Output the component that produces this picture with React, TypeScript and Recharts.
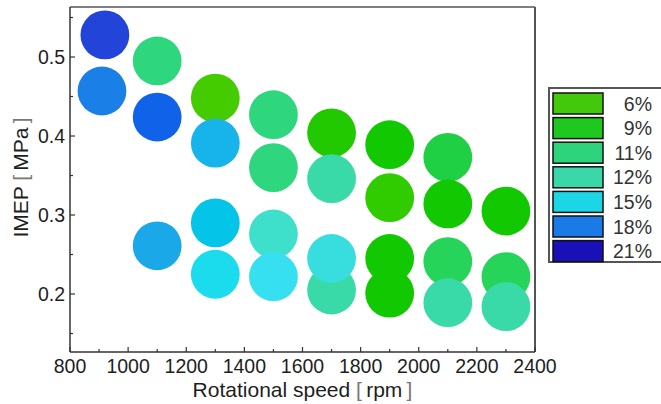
import React from 'react';
import { ScatterChart, Scatter, XAxis, YAxis, Legend, Cell, ReferenceLine } from 'recharts';

// ---- data ----
const rpmValues = [920, 910, 1100, 1100, 1100, 1300, 1300, 1300, 1300, 1500, 1500, 1500, 1500, 1700, 1700, 1700, 1700, 1900, 1900, 1900, 1900, 2100, 2100, 2100, 2100, 2300, 2300, 2300];
const imepValues = [0.528, 0.457, 0.495, 0.424, 0.261, 0.448, 0.391, 0.29, 0.225, 0.427, 0.36, 0.276, 0.222, 0.404, 0.346, 0.205, 0.245, 0.389, 0.322, 0.245, 0.201, 0.373, 0.314, 0.241, 0.189, 0.305, 0.222, 0.184];
const efficiencyValues = [21, 18, 11, 19.5, 17, 6, 16, 15, 14, 11, 11, 13, 14.5, 8, 12, 12, 13.5, 9, 7, 9, 9, 10, 9, 10.5, 12, 9, 10.5, 12];

const legendLabels = ['6%', '9%', '11%', '12%', '15%', '18%', '21%'];
const legendColors = ['#44c80c', '#1ec81e', '#2ed47c', '#3ad8a8', '#1cd6e6', '#1a7ae6', '#1a10b8'];

const efficiencyColors: Record<string, string> = {
  '6': '#44cc00',
  '7': '#30cc00',
  '8': '#22c800',
  '9': '#12c800',
  '10': '#20d044',
  '10.5': '#26d45a',
  '11': '#2ed67e',
  '12': '#3adaa8',
  '13': '#3ee0cc',
  '13.5': '#38dede',
  '14': '#1adcec',
  '14.5': '#36e0f0',
  '15': '#04c4e8',
  '16': '#16b4ea',
  '17': '#1aa8e8',
  '18': '#1a80e8',
  '19.5': '#1062e8',
  '21': '#2244d8',
};

const xDomain = [800, 2400];
const yDomain = [0.1266, 0.5633];
const xTicks = [800, 900, 1000, 1100, 1200, 1300, 1400, 1500, 1600, 1700, 1800, 1900, 2000, 2100, 2200, 2300, 2400];
const yTicks = [0.15, 0.2, 0.25, 0.3, 0.35, 0.4, 0.45, 0.5, 0.55];

const data = rpmValues.map((rpm, i) => ({ rpm, imep: imepValues[i], eff: efficiencyValues[i] }));

const FONT = '"Liberation Sans", Arial, sans-serif';
const FS = 19.5;
const TFS = 21;
const TXT = '#1e1e1e';

const XTick = (props: any) => {
  const { x, y, payload } = props;
  const v = payload.value;
  const major = v % 200 === 0;
  return (
    <g>
      <line x1={x} x2={x} y1={y} y2={y - (major ? 5 : 3)} stroke="#333" strokeWidth={1.2} />
      {major && (
        <text x={x} y={y + 21} textAnchor="middle" fontSize={FS} fontFamily={FONT} fill={TXT}>
          {v}
        </text>
      )}
    </g>
  );
};

const YTick = (props: any) => {
  const { x, y, payload } = props;
  const v = payload.value;
  const major = Math.abs(v * 10 - Math.round(v * 10)) < 1e-6;
  return (
    <g>
      <line x1={x} x2={x + (major ? 5 : 3)} y1={y} y2={y} stroke="#333" strokeWidth={1.2} />
      {major && (
        <text x={x - 5} y={y + 7} textAnchor="end" fontSize={FS} fontFamily={FONT} fill={TXT}>
          {v.toFixed(1)}
        </text>
      )}
    </g>
  );
};

const XTitle = (props: any) => {
  const vb = props.viewBox;
  return (
    <text x={vb.x + vb.width / 2} y={vb.y + 45} textAnchor="middle" fontSize={TFS} fontFamily={FONT} fill={TXT}>
      Rotational speed{' '}<tspan fill="#777">[</tspan>{'\u2009'}rpm{'\u2009'}<tspan fill="#777">]</tspan>
    </text>
  );
};

const YTitle = (props: any) => {
  const vb = props.viewBox;
  const bx = vb.x + 18;
  const cy = vb.y + vb.height / 2 - 2;
  return (
    <text x={bx} y={cy} transform={`rotate(-90 ${bx} ${cy})`} textAnchor="middle" fontSize={TFS} fontFamily={FONT} fill={TXT}>
      IMEP{' '}<tspan fill="#777">[</tspan>{'\u2009'}MPa{'\u2009'}<tspan fill="#777">]</tspan>
    </text>
  );
};

const Bubble = (props: any) => {
  const { cx, cy, fill } = props;
  return <circle cx={cx} cy={cy} r={24.4} fill={fill} />;
};

const LegendBox = () => (
  <svg width={113} height={176} style={{ display: 'block' }}>
    <rect x={1} y={1} width={140} height={174} fill="#fff" stroke="#555" strokeWidth={2} />
    {legendLabels.map((lab, i) => {
      const top = 6 + i * 24.6;
      return (
        <g key={lab}>
          <rect x={5} y={top} width={50} height={21} fill={legendColors[i]} stroke="#111" strokeWidth={1.5} />
          <text x={104} y={top + 17.5} textAnchor="end" fontSize={FS} fontFamily={FONT} fill="#333">
            {lab}
          </text>
        </g>
      );
    })}
  </svg>
);

export default function App() {
  return (
    <div style={{ position: 'absolute', left: 0, top: 0, width: 661, height: 404, background: '#fff' }}>
      <ScatterChart width={661} height={404} margin={{ top: 7, right: 126, bottom: 0, left: 10 }}>
        <XAxis
          type="number"
          dataKey="rpm"
          domain={xDomain}
          allowDataOverflow
          ticks={xTicks}
          interval={0}
          tickSize={0}
          tickMargin={0}
          tickLine={false}
          tick={<XTick />}
          axisLine={{ stroke: '#333', strokeWidth: 1.5 }}
          height={52}
          label={<XTitle />}
        />
        <YAxis
          type="number"
          dataKey="imep"
          domain={yDomain}
          allowDataOverflow
          ticks={yTicks}
          interval={0}
          tickSize={0}
          tickMargin={0}
          tickLine={false}
          tick={<YTick />}
          axisLine={{ stroke: '#333', strokeWidth: 1.5 }}
          width={60}
          label={<YTitle />}
        />
        <ReferenceLine y={yDomain[1]} stroke="#555" strokeWidth={1.5} ifOverflow="visible" />
        <ReferenceLine x={xDomain[1]} stroke="#555" strokeWidth={2} ifOverflow="visible" />
        <Legend
          layout="horizontal"
          verticalAlign="middle"
          align="center"
          wrapperStyle={{ left: 548, top: 87, width: 113, height: 176, margin: 0, padding: 0 }}
          content={() => <LegendBox />}
        />
        <Scatter data={data} isAnimationActive={false} shape={<Bubble />}>
          {data.map((d, i) => (
            <Cell key={i} fill={efficiencyColors[String(d.eff)]} />
          ))}
        </Scatter>
      </ScatterChart>
    </div>
  );
}
